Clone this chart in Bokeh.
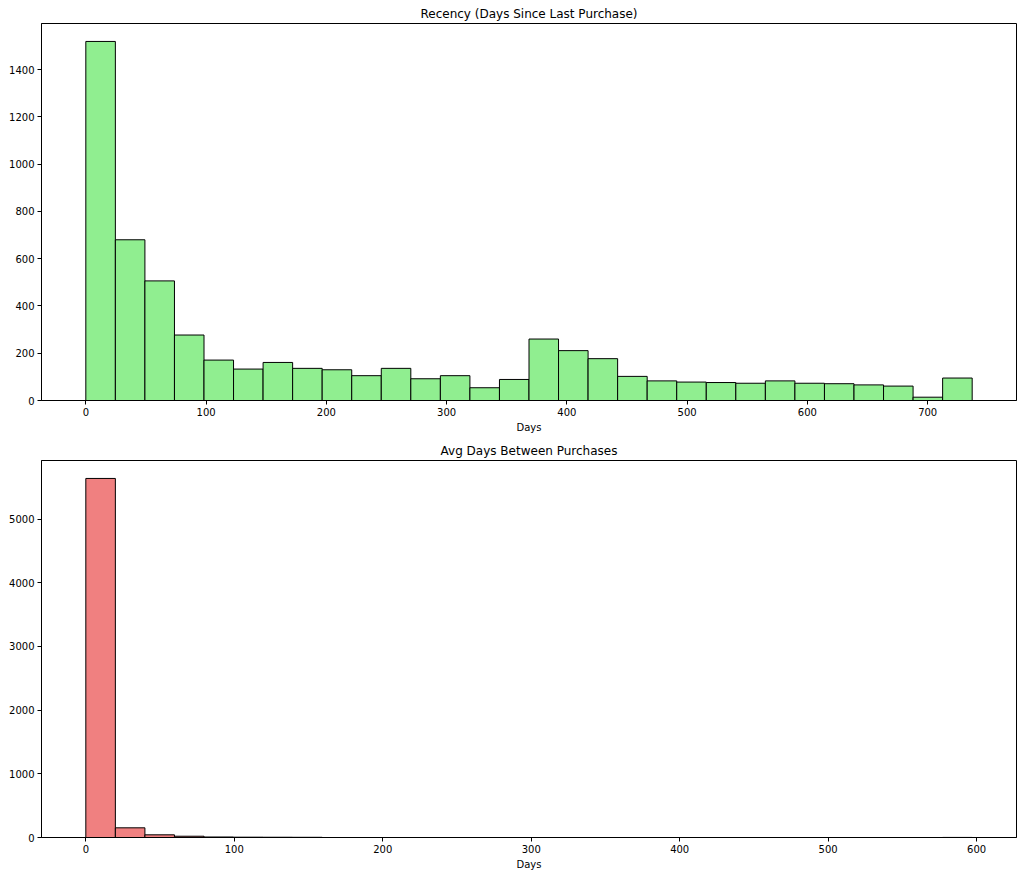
import numpy as np
from bokeh.plotting import figure
from bokeh.layouts import column
from bokeh.models import Range1d, FixedTicker, ColumnDataSource
from bokeh.embed import file_html
from bokeh.resources import INLINE

# ---- data ----
recency_min = 0
recency_max = 737
recency_counts = [1519, 680, 506, 277, 171, 133, 161, 136, 130, 105,
                  136, 92, 105, 54, 89, 260, 211, 177, 102, 83,
                  78, 76, 73, 83, 73, 71, 66, 61, 14, 95]
recency_xticks = [0, 100, 200, 300, 400, 500, 600, 700]
recency_yticks = [0, 200, 400, 600, 800, 1000, 1200, 1400]

avgdays_min = 0
avgdays_max = 597
avgdays_counts = [5638, 152, 42, 20, 8, 5, 4, 3, 0, 0,
                  0, 0, 0, 0, 0, 0, 0, 0, 0, 0,
                  0, 0, 0, 0, 0, 0, 0, 0, 0, 1]
avgdays_xticks = [0, 100, 200, 300, 400, 500, 600]
avgdays_yticks = [0, 1000, 2000, 3000, 4000, 5000]

FONT = "DejaVu Sans"


def hist_fig(title, vmin, vmax, counts, xticks, yticks, color, height, top_border, bottom_border):
    edges = np.linspace(vmin, vmax, len(counts) + 1)
    src = ColumnDataSource(dict(left=edges[:-1], right=edges[1:],
                                top=counts, bottom=[0] * len(counts)))
    span = vmax - vmin
    ymax = max(counts) * 1.05
    p = figure(width=1018, height=height, output_backend="svg", toolbar_location=None,
               x_range=Range1d(vmin - 0.05 * span, vmax + 0.05 * span),
               y_range=Range1d(0, ymax),
               min_border_left=41, min_border_right=2,
               min_border_top=top_border, min_border_bottom=bottom_border)
    p.quad(left="left", right="right", top="top", bottom="bottom", source=src,
           fill_color=color, line_color="black", line_width=1)
    p.title.text = title
    p.title.align = "center"
    p.title.text_font = FONT
    p.title.text_font_size = "12px"
    p.title.text_font_style = "normal"
    p.title.text_color = "black"
    p.title.standoff = 5
    p.xgrid.visible = False
    p.ygrid.visible = False
    p.outline_line_color = "black"
    p.outline_line_width = 1
    p.background_fill_color = "white"
    p.border_fill_color = "white"
    p.xaxis.ticker = FixedTicker(ticks=xticks)
    p.yaxis.ticker = FixedTicker(ticks=yticks)
    p.xaxis.axis_label = "Days"
    for ax in (p.xaxis[0], p.yaxis[0]):
        ax.major_label_text_font = FONT
        ax.major_label_text_font_size = "10px"
        ax.major_label_text_color = "black"
        ax.major_tick_in = 0
        ax.major_tick_out = 4
        ax.major_tick_line_color = "black"
        ax.minor_tick_line_color = None
        ax.axis_line_color = "black"
        ax.major_label_standoff = 3
        ax.axis_label_text_font = FONT
        ax.axis_label_text_font_size = "10px"
        ax.axis_label_text_font_style = "normal"
        ax.axis_label_text_color = "black"
        ax.axis_label_standoff = 3
    return p


p1 = hist_fig("Recency (Days Since Last Purchase)", recency_min, recency_max, recency_counts,
              recency_xticks, recency_yticks, "#90EE90", 438, 23, 38)
p2 = hist_fig("Avg Days Between Purchases", avgdays_min, avgdays_max, avgdays_counts,
              avgdays_xticks, avgdays_yticks, "#F08080", 435, 22, 36)

layout = column(p1, p2, spacing=0)
open("out.html", "w").write(file_html(layout, INLINE))
